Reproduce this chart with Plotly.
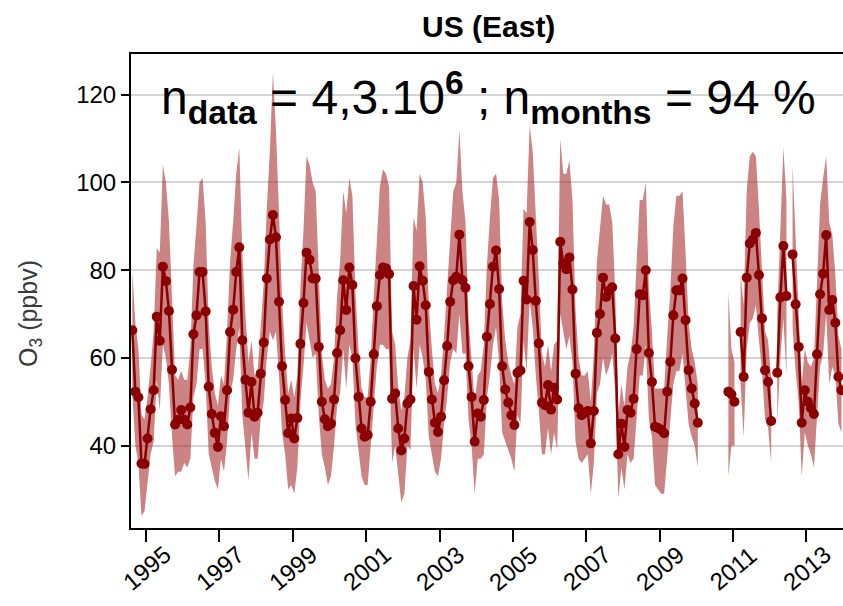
import plotly.graph_objects as go

# ---------------- data (monthly, Jan 1994 .. Dec 2013) ----------------
START_YEAR = 1994
N = None
# monthly mean O3 (ppbv)
O3_MEAN = [
    N, N, N, N, N, N, N, 66.3, 52.3, 51.0, 35.9, 35.8,                 # 1994
    41.6, 48.3, 52.6, 69.4, 63.9, 80.8, 77.5, 70.7, 57.3, 44.8, 45.9, 48.1,  # 1995
    45.9, 44.8, 48.7, 65.4, 69.7, 79.6, 79.6, 70.6, 53.4, 47.2, 42.9, 39.7,  # 1996
    46.7, 44.4, 52.6, 65.9, 71.0, 79.6, 85.2, 64.0, 55.0, 47.5, 54.5, 46.6,  # 1997
    47.5, 56.4, 63.5, 78.1, 87.0, 92.6, 87.5, 72.8, 58.1, 50.4, 42.8, 46.2,  # 1998
    41.6, 46.3, 63.2, 72.5, 84.0, 82.4, 78.1, 78.1, 62.5, 50.0, 46.0, 44.4,  # 1999
    45.0, 50.5, 61.1, 66.3, 77.7, 70.9, 80.6, 76.6, 59.9, 51.1, 43.9, 42.0,  # 2000
    42.4, 50.0, 60.8, 71.8, 78.9, 80.6, 80.4, 79.1, 50.7, 51.9, 43.9, 38.9,  # 2001
    41.6, 49.6, 50.5, 76.4, 68.7, 80.9, 77.6, 72.0, 56.8, 50.5, 45.2, 43.1,  # 2002
    46.6, 54.9, 62.7, 72.8, 77.7, 78.5, 88.1, 77.7, 76.0, 58.1, 51.1, 40.9,  # 2003
    47.3, 46.6, 50.4, 64.8, 72.3, 80.8, 84.5, 75.7, 58.1, 52.8, 49.8, 46.9,  # 2004
    44.7, 56.6, 57.1, 77.6, 73.3, 91.0, 84.6, 73.0, 63.3, 49.8, 49.2, 53.8,  # 2005
    48.2, 53.2, 50.5, 86.5, 81.5, 80.2, 82.9, 75.6, 56.4, 48.5, 46.9, 47.5,  # 2006
    47.9, 40.5, 47.9, 65.7, 70.0, 78.3, 73.9, 75.3, 76.1, 64.4, 38.0, 45.0,  # 2007
    39.7, 48.1, 47.5, 50.7, 62.0, 74.5, 74.3, 80.0, 61.1, 54.5, 44.3, 44.0,  # 2008
    43.6, 42.8, 52.3, 59.1, 69.7, 75.4, 75.4, 78.1, 68.6, 57.2, 53.0, 49.6,  # 2009
    45.2, N, N, N, N, N, N, N, N, N, 52.3, 51.7,                        # 2010
    50.0, N, 65.9, 55.7, 78.3, 86.1, 87.0, 88.5, 78.9, 69.0, 57.2, 54.5,   # 2011
    45.6, N, 56.6, 73.8, 85.5, 74.1, N, 83.6, 72.2, 62.5, 45.2, 52.6,      # 2012
    50.0, 48.5, 47.2, 60.8, 74.5, 79.2, 88.0, 70.9, 73.2, 68.0, 55.7, 52.6,  # 2013
]
# upper edge of the shaded range
O3_UPPER = [
    N, N, N, N, N, N, N, 80, 68, 62, 47, 46,
    51, 58, 66, 85, 84, 104, 100, 91, 72, 56, 55, 57,
    55, 55, 62, 81, 90, 100, 101, 91, 68, 58, 52, 49,
    56, 54, 66, 82, 91, 102, 108, 84, 70, 59, 64, 56,
    57, 66, 77, 94, 107, 125, 112, 93, 73, 61, 52, 55,
    51, 56, 76, 89, 106, 104, 100, 98, 78, 61, 55, 53,
    54, 60, 74, 82, 98, 93, 101, 97, 75, 62, 53, 51,
    51, 60, 74, 88, 99, 103, 102, 99, 66, 63, 53, 48,
    51, 60, 64, 92, 89, 102, 100, 92, 72, 62, 54, 52,
    56, 65, 76, 89, 98, 100, 112, 98, 91, 69, 60, 50,
    56, 57, 63, 81, 92, 101, 102, 96, 73, 64, 59, 56,
    54, 67, 70, 94, 93, 113, 107, 93, 78, 61, 58, 63,
    57, 63, 64, 110, 102, 102, 105, 96, 71, 60, 56, 56,
    57, 50, 61, 82, 90, 97, 95, 95, 91, 75, 47, 54,
    49, 58, 61, 67, 82, 96, 96, 100, 76, 66, 53, 53,
    53, 53, 65, 75, 90, 97, 97, 98, 84, 68, 62, 59,
    54, N, N, N, N, N, N, N, N, N, 75, 62,
    59, N, 79, 72, 98, 106, 107, 106, 94, 80, 66, 64,
    55, N, 70, 90, 108, 96, N, 104, 87, 74, 54, 62,
    59, 58, 60, 77, 95, 101, 106, 91, 88, 79, 65, 62,
]
# lower edge of the shaded range
O3_LOWER = [
    N, N, N, N, N, N, N, 52, 40, 36, 24, 25,
    32, 38, 41, 55, 48, 63, 60, 54, 42, 33, 34, 34,
    36, 35, 37, 51, 54, 62, 62, 54, 38, 35, 32, 30,
    37, 34, 41, 52, 55, 62, 67, 47, 40, 32, 43, 37,
    37, 46, 50, 60, 66, 64, 66, 56, 43, 38, 30, 31,
    29, 35, 50, 58, 68, 64, 60, 61, 47, 38, 35, 31,
    33, 40, 49, 52, 62, 53, 63, 60, 45, 39, 33, 31,
    31, 40, 49, 58, 63, 63, 62, 62, 36, 40, 33, 27,
    29, 40, 39, 62, 53, 63, 60, 55, 42, 38, 34, 33,
    37, 45, 51, 59, 62, 61, 70, 61, 61, 46, 40, 29,
    37, 37, 38, 51, 56, 63, 67, 59, 43, 41, 39, 37,
    34, 47, 45, 64, 57, 73, 67, 56, 48, 38, 38, 44,
    38, 43, 39, 70, 66, 62, 65, 59, 41, 37, 36, 37,
    38, 29, 36, 52, 54, 60, 56, 58, 61, 52, 28, 35,
    30, 38, 36, 37, 46, 56, 56, 63, 46, 42, 31, 30,
    29, 29, 38, 45, 54, 57, 57, 61, 54, 45, 42, 40,
    35, N, N, N, N, N, N, N, N, N, 33, 40,
    40, N, 54, 42, 62, 68, 69, 72, 64, 57, 46, 44,
    36, N, 45, 60, 69, 56, N, 67, 57, 50, 33, 43,
    40, 38, 35, 47, 58, 61, 70, 54, 58, 56, 45, 43,
]
TICK_YEARS = [1995, 1997, 1999, 2001, 2003, 2005, 2007, 2009, 2011, 2013]
Y_TICKS = [40, 60, 80, 100, 120]

# ---------------- build ----------------
months_x = [START_YEAR + (i // 12) + ((i % 12) + 0.5) / 12.0 for i in range(len(O3_MEAN))]

DARK = "#8b0000"
BAND = "rgba(160,30,30,0.55)"
FONT = "Liberation Sans, Arial, Helvetica, sans-serif"

W, H = 843, 606
ML, MR, MT, MB = 131, 0, 54, 78
PW, PH = W - ML - MR, H - MT - MB

fig = go.Figure()

# shaded range: one closed polygon per run of consecutive months
seg = []
segments = []
for i, v in enumerate(O3_MEAN):
    if v is None:
        if seg:
            segments.append(seg)
        seg = []
    else:
        seg.append(i)
if seg:
    segments.append(seg)

for s in segments:
    xs = [months_x[i] for i in s]
    up = [O3_UPPER[i] for i in s]
    lo = [O3_LOWER[i] for i in s]
    if len(s) == 1:
        fig.add_trace(go.Scatter(x=[xs[0], xs[0]], y=[lo[0], up[0]], mode="lines",
                                 line=dict(color=BAND, width=1.5), hoverinfo="skip",
                                 showlegend=False))
        continue
    fig.add_trace(go.Scatter(x=xs + xs[::-1], y=up + lo[::-1], fill="toself",
                             fillcolor=BAND, line=dict(width=0), mode="lines",
                             hoverinfo="skip", showlegend=False))

fig.add_trace(go.Scatter(x=months_x, y=O3_MEAN, mode="lines+markers",
                         line=dict(color=DARK, width=2.5),
                         marker=dict(color=DARK, size=10),
                         connectgaps=False, showlegend=False))

fig.update_layout(
    width=W, height=H,
    margin=dict(l=ML, r=MR, t=MT, b=MB, autoexpand=False),
    paper_bgcolor="white", plot_bgcolor="white",
    font=dict(family=FONT, color="black", size=24),
    showlegend=False,
)
fig.update_xaxes(
    range=[1994.59, 2014.0], automargin=False,
    tickvals=TICK_YEARS, showticklabels=False,
    ticks="outside", ticklen=12, tickwidth=2, tickcolor="black",
    showline=True, linecolor="black", linewidth=2, mirror=True,
    showgrid=False, zeroline=False,
)
fig.update_yaxes(
    range=[21.2, 129.3], automargin=False,
    tickvals=Y_TICKS, ticks="outside", ticklen=8, tickwidth=2, tickcolor="black",
    showline=True, linecolor="black", linewidth=2, mirror=False,
    showgrid=True, gridcolor="#d4d4d4", gridwidth=1.5, zeroline=False,
    tickfont=dict(size=24, family=FONT, color="black"),
)

# rotated x tick labels, centred on their ticks
for yr in TICK_YEARS:
    fig.add_annotation(text=str(yr), x=yr, xref="x", yref="paper",
                       y=-(568 - (MT + PH)) / PH, showarrow=False,
                       xanchor="center", yanchor="middle", textangle=-40,
                       font=dict(size=24, family=FONT, color="black"))

# title
fig.add_annotation(text="<b>US (East)</b>", xref="paper", yref="paper",
                   x=(489 - ML) / PW, y=(H - MB - 26) / PH, showarrow=False,
                   xanchor="center", yanchor="middle",
                   font=dict(size=30, family=FONT, color="black"))

# y-axis title
fig.add_annotation(text="O<sub>3</sub> (ppbv)", xref="paper", yref="paper",
                   x=(30 - ML) / PW, y=(H - MB - 313) / PH, textangle=-90, showarrow=False,
                   xanchor="center", yanchor="middle",
                   font=dict(size=25, family=FONT, color="#3a3a3a"))

# statistics text
fig.add_annotation(
    text="n<sub><b>data</b></sub> = 4,3.10<sup><b>6</b></sup> ; n<sub><b>months</b></sub> = 94 %",
    xref="paper", yref="paper", x=(489 - ML) / PW, y=(H - MB - 97) / PH, showarrow=False,
    xanchor="center", yanchor="middle",
    font=dict(size=48, family=FONT, color="black"))

fig.write_html(
    "out.html",
    config={"displayModeBar": False},
    post_script="document.body.style.margin='0';document.body.style.padding='0';"
                "document.documentElement.style.overflow='hidden';",
)
